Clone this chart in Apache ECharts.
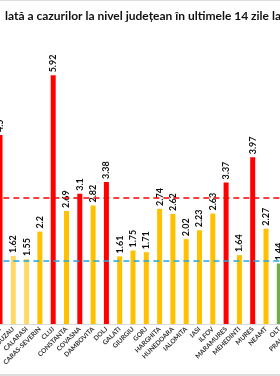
<!DOCTYPE html>
<html>
<head>
<meta charset="utf-8">
<script src="https://cdn.jsdelivr.net/npm/echarts@6/dist/echarts.min.js"></script>
<style>
    html, body { margin: 0; padding: 0; background: #fff; }
    #chartArea { width: 280px; height: 376px; box-sizing: border-box; border-top: 1px solid #ddd; border-bottom: 2px solid #ddd; }
</style>
</head>
<body>
<div id="chartArea"></div>
<script>
var titleText = 'lată a cazurilor la nivel județean în ultimele 14 zile la';

var categories = ['BUCURESTI', 'BUZAU', 'CALARASI', 'CARAS-SEVERIN', 'CLUJ', 'CONSTANTA', 'COVASNA',
    'DAMBOVITA', 'DOLJ', 'GALATI', 'GIURGIU', 'GORJ', 'HARGHITA', 'HUNEDOARA', 'IALOMITA', 'IASI',
    'ILFOV', 'MARAMURES', 'MEHEDINTI', 'MURES', 'NEAMT', 'OLT', 'PRAHOVA'];
var values = [4.5, 1.62, 1.55, 2.2, 5.92, 2.69, 3.1, 2.82, 3.38, 1.61, 1.75, 1.71, 2.74, 2.62,
    2.02, 2.23, 2.63, 3.37, 1.64, 3.97, 2.27, 1.44, null];
// r = rosu, o = portocaliu, p = portocaliu deschis, g = verde
var levels = ['r', 'p', 'p', 'o', 'r', 'o', 'r', 'o', 'r', 'o', 'o', 'o', 'o', 'o',
    'o', 'o', 'o', 'r', 'o', 'r', 'o', 'g', 'o'];
var thresholdHigh = 3;
var thresholdLow = 1.5;

var palette = { r: '#ff0000', o: '#ffc000', p: '#ffd966', g: '#70ad47' };

var barData = [];
for (var i = 0; i < values.length; i++) {
    barData.push({ value: values[i], itemStyle: { color: palette[levels[i]] } });
}

var step = 13.3;
var option = {
    animation: false,
    title: {
        text: titleText,
        left: 0,
        top: 4,
        textStyle: { fontSize: 12, fontWeight: 'bold', fontFamily: 'Lato', color: '#111' }
    },
    grid: {
        left: -step / 2,
        width: step * categories.length,
        top: 29,
        bottom: 50,
        containLabel: false,
        outerBoundsMode: 'none'
    },
    xAxis: {
        type: 'category',
        data: categories,
        axisTick: { show: false },
        axisLine: { lineStyle: { color: '#d9d9d9' } },
        axisLabel: {
            interval: 0,
            rotate: 45,
            fontSize: 6.5,
            fontWeight: 'bold',
            fontFamily: 'Lato',
            color: '#333',
            margin: 4
        }
    },
    yAxis: {
        type: 'value',
        min: 0,
        max: 7,
        show: false,
        splitLine: { show: false }
    },
    series: [{
        type: 'bar',
        data: barData,
        barWidth: 5,
        label: {
            show: true,
            position: 'top',
            rotate: 90,
            align: 'left',
            verticalAlign: 'middle',
            distance: 3,
            fontSize: 9,
            fontWeight: 'bold',
            fontFamily: 'Lato',
            color: '#111'
        },
        markLine: {
            silent: true,
            symbol: 'none',
            label: { show: false },
            data: [
                { yAxis: thresholdHigh, lineStyle: { color: '#ff0000', width: 1.5, type: [6, 4] } },
                { yAxis: thresholdLow, lineStyle: { color: '#1fa8e0', width: 1.5, type: [6, 4] } }
            ]
        }
    }]
};

var myChart = echarts.init(document.getElementById('chartArea'));
myChart.setOption(option);
</script>
</body>
</html>
